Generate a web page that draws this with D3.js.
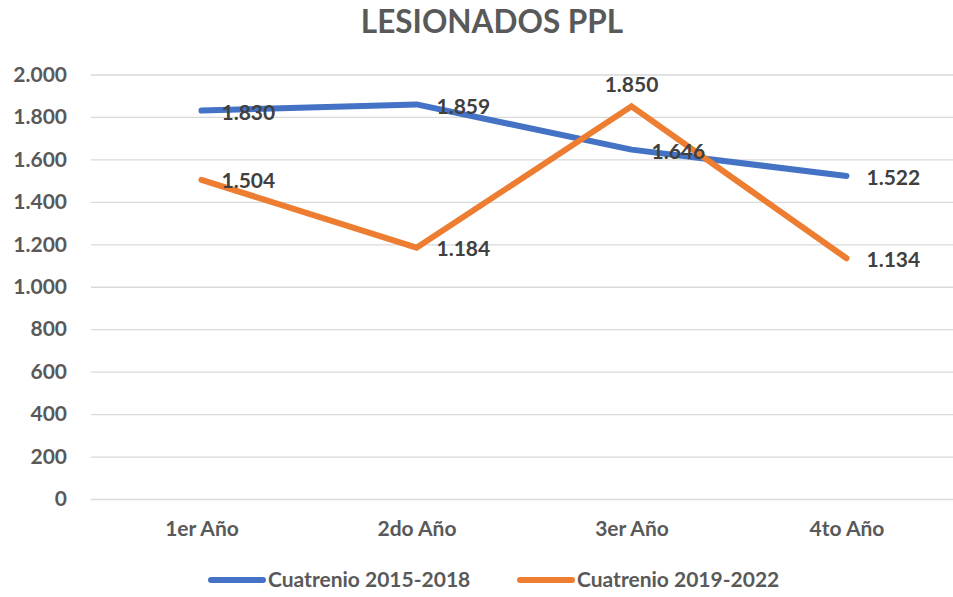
<!DOCTYPE html>
<html>
<head>
<meta charset="utf-8">
<script src="https://cdn.jsdelivr.net/npm/d3@7"></script>
<style>
  body { margin: 0; background: #fff; }
  svg { display: block; font-family: Lato, "Open Sans", sans-serif; font-weight: bold; }
</style>
</head>
<body>
<svg id="chart" width="953" height="597"></svg>
<script>
// data
const years = ["1er Año", "2do Año", "3er Año", "4to Año"];
const serie2015 = [1830, 1859, 1646, 1522];
const serie2019 = [1504, 1184, 1850, 1134];
const seriesNames = ["Cuatrenio 2015-2018", "Cuatrenio 2019-2022"];
const yTicks = [0, 200, 400, 600, 800, 1000, 1200, 1400, 1600, 1800, 2000];

const blue = "#4472C4", orange = "#ED7D31";
const fmt = d3.formatLocale({decimal: ",", thousands: ".", grouping: [3], currency: ["", ""]}).format(",d");

const svg = d3.select("#chart");

const x = d3.scalePoint()
    .domain(years)
    .range([94 + 107.5, 954 - 107.5]);

const y = d3.scaleLinear()
    .domain([0, 2000])
    .range([499, 74.5]);

// title
svg.append("text")
    .attr("x", 492)
    .attr("y", 33)
    .attr("text-anchor", "middle")
    .attr("fill", "#595959")
    .attr("font-size", 31.5)
    .text("LESIONADOS PPL");

// gridlines + y labels
const yAxis = svg.append("g")
    .attr("transform", "translate(91,0)")
    .call(d3.axisLeft(y).tickValues(yTicks).tickFormat(fmt).tickSize(-862).tickPadding(24));
yAxis.select(".domain").remove();
yAxis.selectAll(".tick line").attr("stroke", "#D9D9D9").attr("stroke-width", 1.3);
yAxis.selectAll(".tick text")
    .attr("fill", "#595959")
    .attr("font-size", 21)
    .attr("font-family", "Lato, sans-serif")
    .attr("font-weight", "bold");

// x labels
const xAxis = svg.append("g")
    .attr("transform", "translate(0,499)")
    .call(d3.axisBottom(x).tickSize(0).tickPadding(22));
xAxis.select(".domain").remove();
xAxis.selectAll(".tick text")
    .attr("fill", "#595959")
    .attr("font-size", 21)
    .attr("font-family", "Lato, sans-serif")
    .attr("font-weight", "bold");

// lines
const line = d3.line()
    .x((d, i) => x(years[i]))
    .y(d => y(d));

svg.append("path")
    .attr("d", line(serie2015))
    .attr("fill", "none")
    .attr("stroke", blue)
    .attr("stroke-width", 6)
    .attr("stroke-linecap", "round")
    .attr("stroke-linejoin", "round");

svg.append("path")
    .attr("d", line(serie2019))
    .attr("fill", "none")
    .attr("stroke", orange)
    .attr("stroke-width", 6)
    .attr("stroke-linecap", "round")
    .attr("stroke-linejoin", "miter");

// data labels
const labels = svg.append("g")
    .attr("fill", "#404040")
    .attr("font-size", 21);

serie2015.forEach((v, i) => {
    labels.append("text")
        .attr("x", x(years[i]) + 20)
        .attr("y", y(v) + 2)
        .attr("dy", "0.35em")
        .text(fmt(v));
});
serie2019.forEach((v, i) => {
    const above = i === 2;
    labels.append("text")
        .attr("x", above ? x(years[i]) : x(years[i]) + 20)
        .attr("y", above ? y(v) - 22 : y(v) + 1)
        .attr("dy", "0.35em")
        .attr("text-anchor", above ? "middle" : "start")
        .text(fmt(v));
});

// legend
const legend = svg.append("g").attr("transform", "translate(0,580)");
const legendItems = [
    {name: seriesNames[0], color: blue, x0: 208},
    {name: seriesNames[1], color: orange, x0: 517}
];
legendItems.forEach(d => {
    legend.append("line")
        .attr("x1", d.x0 + 3).attr("x2", d.x0 + 55)
        .attr("stroke", d.color)
        .attr("stroke-width", 6)
        .attr("stroke-linecap", "round");
    legend.append("text")
        .attr("x", d.x0 + 60)
        .attr("dy", "0.35em")
        .attr("fill", "#595959")
        .attr("font-size", 21)
        .text(d.name);
});
</script>
</body>
</html>
